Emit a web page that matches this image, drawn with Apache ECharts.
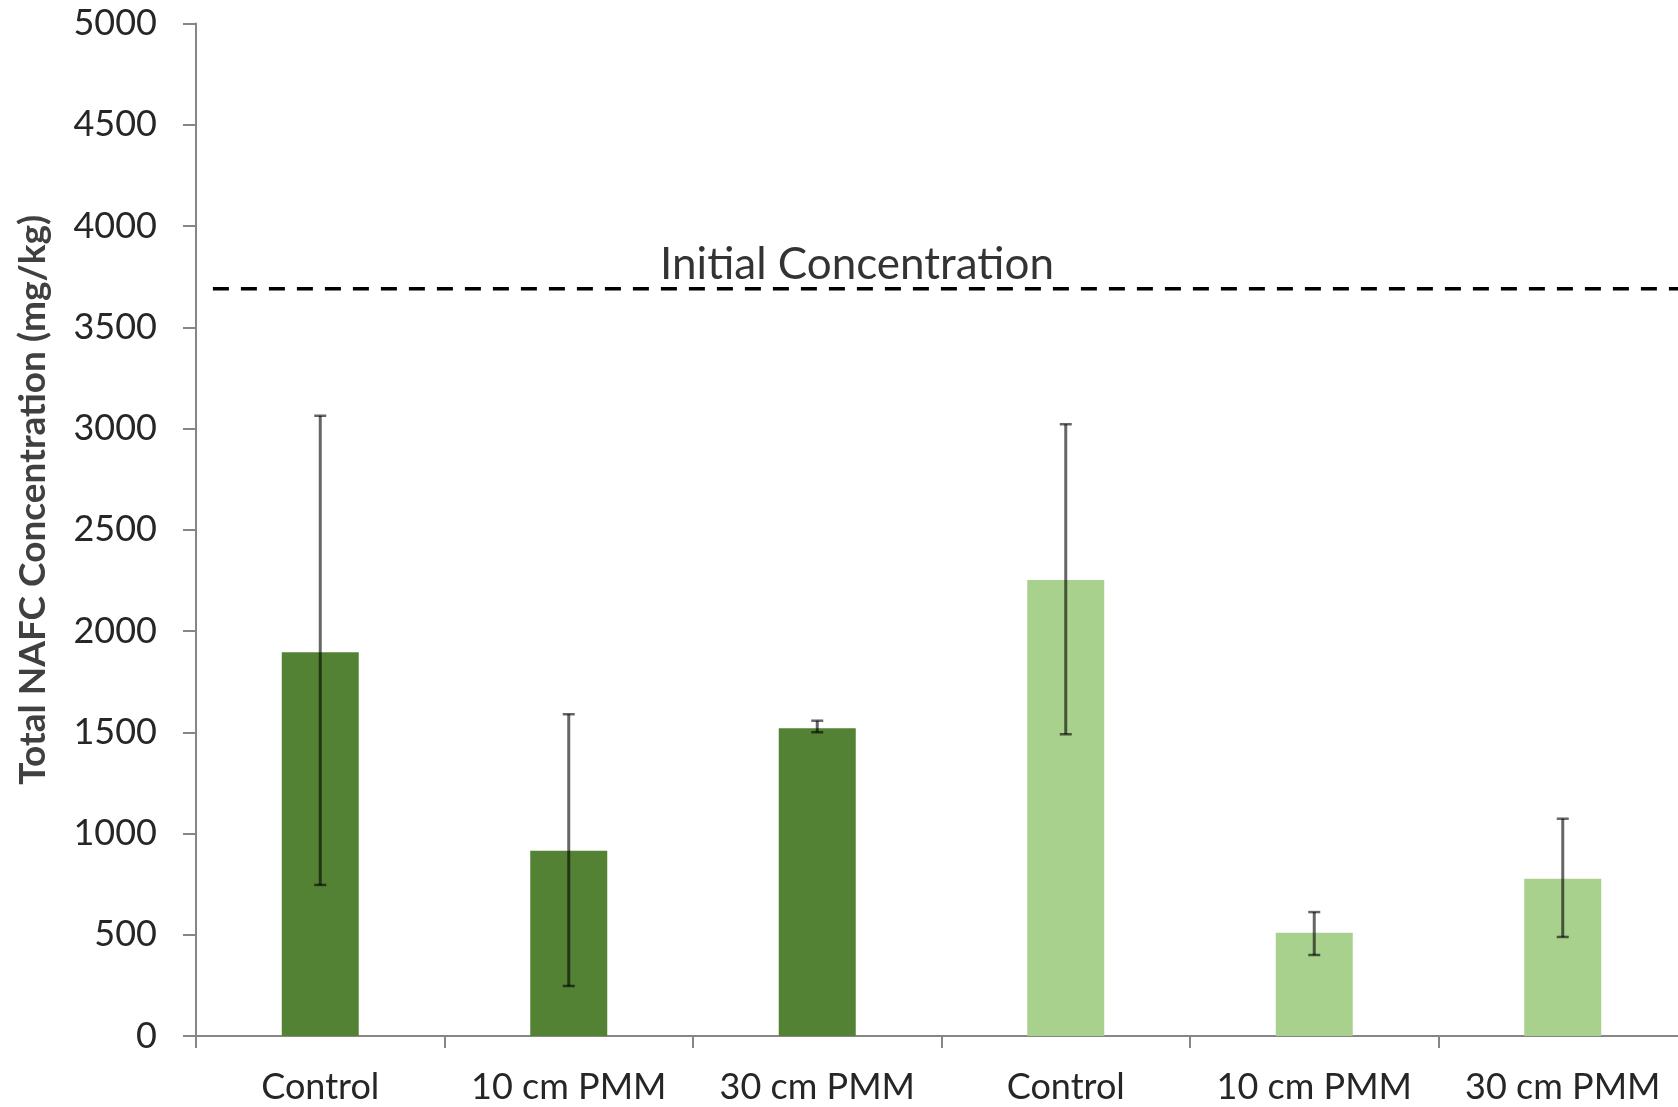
<!DOCTYPE html>
<html>
<head>
<meta charset="utf-8">
<title>Total NAFC Concentration</title>
<script src="https://cdn.jsdelivr.net/npm/echarts@6/dist/echarts.min.js"></script>
<style>
  html, body { margin: 0; padding: 0; background: #ffffff; }
  #chart { width: 1678px; height: 1107px; }
</style>
</head>
<body>
<div id="chart"></div>
<script>
// Treatment categories (two groups of three)
const categories = ['Control', '10 cm PMM', '30 cm PMM', 'Control', '10 cm PMM', '30 cm PMM'];

// Mean total NAFC concentration (mg/kg), first group / second group
const groupA = [1895, 915, 1520, null, null, null];
const groupB = [null, null, null, 2252, 510, 776];

// Error bar extents (mg/kg)
const errLow = [746, 247, 1500, 1490, 400, 489];
const errHigh = [3063, 1589, 1557, 3021, 612, 1073];

// Reference level for the initial concentration
const initialConcentration = 3690;
const initialLabel = 'Initial Concentration';

// Y-axis ticks
const yMin = 0, yMax = 5000, yStep = 500;

const FONT = 'Lato, "Open Sans", sans-serif';
const AXIS_GRAY = '#868686';
const TEXT_COLOR = '#262626';

const errData = categories.map((c, i) => [i, errLow[i], errHigh[i]]);

const chart = echarts.init(document.getElementById('chart'), null, { renderer: 'canvas' });

chart.setOption({
  animation: false,
  backgroundColor: '#ffffff',
  // the category axis runs slightly past the right edge of the canvas
  grid: { left: 196, right: -9, top: 23.5, bottom: 71, containLabel: false, outerBoundsMode: 'none' },
  xAxis: [
    {
      type: 'category',
      data: categories,
      boundaryGap: true,
      axisLine: { show: true, lineStyle: { color: AXIS_GRAY, width: 2 } },
      axisTick: { show: true, interval: 0, alignWithLabel: false, length: 12, lineStyle: { color: AXIS_GRAY, width: 2 } },
      axisLabel: { interval: 0, margin: 33, fontFamily: FONT, fontSize: 36, color: TEXT_COLOR },
      splitLine: { show: false }
    },
    {
      // helper axis spanning the same extent as the categories
      type: 'value',
      min: 0,
      max: categories.length,
      show: false
    }
  ],
  yAxis: {
    type: 'value',
    min: yMin,
    max: yMax,
    interval: yStep,
    name: 'Total NAFC Concentration (mg/kg)',
    nameLocation: 'middle',
    nameRotate: 90,
    nameGap: 144,
    nameTextStyle: { fontFamily: FONT, fontSize: 37, fontWeight: 'bold', color: '#404040', padding: [0, 0, 0, 60] },
    axisLine: { show: true, lineStyle: { color: AXIS_GRAY, width: 2 } },
    axisTick: { show: true, length: 13, lineStyle: { color: AXIS_GRAY, width: 2 } },
    axisLabel: {
      margin: 39,
      fontFamily: FONT,
      fontSize: 36,
      color: TEXT_COLOR,
      formatter: function (v) { return String(v); }
    },
    splitLine: { show: false }
  },
  series: [
    {
      type: 'bar',
      data: groupA,
      barWidth: 77,
      barGap: '-100%',
      itemStyle: { color: '#548235' },
      z: 2
    },
    {
      type: 'bar',
      data: groupB,
      barWidth: 77,
      barGap: '-100%',
      itemStyle: { color: '#a9d18e' },
      z: 2
    },
    {
      type: 'custom',
      data: errData,
      z: 5,
      renderItem: function (params, api) {
        const x = api.value(0);
        const lo = api.coord([x, api.value(1)]);
        const hi = api.coord([x, api.value(2)]);
        const half = 6;
        const stroke = 'rgba(0,0,0,0.6)';
        return {
          type: 'group',
          children: [
            { type: 'line', shape: { x1: lo[0], y1: lo[1], x2: hi[0], y2: hi[1] }, style: { stroke: stroke, lineWidth: 3 } },
            { type: 'line', shape: { x1: lo[0] - half, y1: lo[1], x2: lo[0] + half, y2: lo[1] }, style: { stroke: stroke, lineWidth: 2.5 } },
            { type: 'line', shape: { x1: hi[0] - half, y1: hi[1], x2: hi[0] + half, y2: hi[1] }, style: { stroke: stroke, lineWidth: 2.5 } }
          ]
        };
      }
    },
    {
      // dashed reference line for the initial concentration
      type: 'line',
      xAxisIndex: 1,
      data: [[0.068, initialConcentration], [categories.length, initialConcentration]],
      symbol: 'none',
      lineStyle: { color: '#000000', width: 3.5, type: [16, 12] },
      z: 4
    },
    {
      type: 'scatter',
      xAxisIndex: 1,
      data: [[2.66, initialConcentration]],
      symbolSize: 0,
      label: {
        show: true,
        position: 'top',
        distance: 2,
        formatter: initialLabel,
        fontFamily: FONT,
        fontSize: 44,
        color: '#000000'
      },
      z: 6
    }
  ]
});
</script>
</body>
</html>
